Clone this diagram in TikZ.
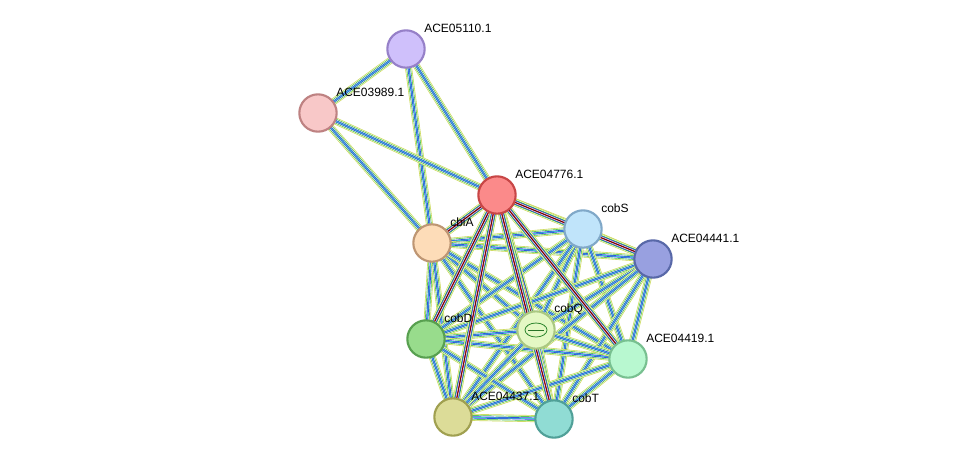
\documentclass[tikz,border=0pt]{standalone}
\usepackage{fontspec}
\setmainfont{Liberation Sans}
\begin{document}
\begin{tikzpicture}[x=0.75pt,y=-0.75pt,
  prot/.style={circle,draw,line width=1.6pt,minimum size=28pt,inner sep=0pt},
  lab/.style={anchor=west,font=\fontsize{9}{10}\selectfont,inner sep=0pt}]
\useasboundingbox[fill=white] (0,0) rectangle (975,465);
\definecolor{eY}{HTML}{C8D850}\definecolor{eG}{HTML}{40C040}\definecolor{eB}{HTML}{3040E0}\definecolor{eP}{HTML}{9060C0}\definecolor{eR}{HTML}{E03030}\definecolor{eC}{HTML}{40C8D0}
\coordinate (p05110) at (406,49);
\coordinate (p03989) at (318,113);
\coordinate (p04776) at (497,195);
\coordinate (pcobS) at (583,229);
\coordinate (p04441) at (653,259);
\coordinate (pcbiA) at (432,243);
\coordinate (pcobD) at (426,339);
\coordinate (pcobQ) at (536,330);
\coordinate (p04419) at (628,359);
\coordinate (p04437) at (453,417);
\coordinate (pcobT) at (554,419);
\newcommand\edg[2]{%
  \draw[line width=5.2pt,eY] (#1)--(#2);
  \draw[line width=4.2pt,white] (#1)--(#2);
  \draw[line width=3.4pt,eG] (#1)--(#2);
  \draw[line width=2.4pt,white] (#1)--(#2);
  \draw[line width=1.6pt,eB] (#1)--(#2);
  \draw[line width=0.6pt,eC] (#1)--(#2);}
\newcommand\edgr[2]{%
  \draw[line width=5.6pt,eY] (#1)--(#2);
  \draw[line width=4.6pt,white] (#1)--(#2);
  \draw[line width=3.8pt,eG] (#1)--(#2);
  \draw[line width=2.8pt,eB] (#1)--(#2);
  \draw[line width=1.8pt,white] (#1)--(#2);
  \draw[line width=1.1pt,eR] (#1)--(#2);
  \draw[line width=0.3pt,black] (#1)--(#2);}
\edg{p05110}{p03989}\edg{p05110}{p04776}\edg{p05110}{pcbiA}
\edg{p03989}{p04776}\edg{p03989}{pcbiA}
\foreach \a/\b in {pcbiA/pcobS,pcbiA/p04441,pcbiA/pcobD,pcbiA/pcobQ,pcbiA/p04419,pcbiA/p04437,pcbiA/pcobT,
 pcobS/p04441,pcobS/pcobD,pcobS/pcobQ,pcobS/p04419,pcobS/p04437,pcobS/pcobT,
 p04441/pcobD,p04441/pcobQ,p04441/p04419,p04441/p04437,p04441/pcobT,
 pcobD/pcobQ,pcobD/p04419,pcobD/p04437,pcobD/pcobT,
 pcobQ/p04419,pcobQ/p04437,pcobQ/pcobT,
 p04419/p04437,p04419/pcobT,p04437/pcobT}{\edg{\a}{\b}}
\foreach \b in {pcobS,p04441,pcbiA,pcobD,pcobQ,p04419,p04437,pcobT}{\edgr{p04776}{\b}}
\node[prot,fill={rgb,255:red,207;green,192;blue,251},draw={rgb,255:red,150;green,128;blue,200}] (n05110) at (p05110) {};
\node[prot,fill={rgb,255:red,248;green,200;blue,200},draw={rgb,255:red,190;green,130;blue,130}] (n03989) at (p03989) {};
\node[prot,fill={rgb,255:red,251;green,138;blue,138},draw={rgb,255:red,200;green,70;blue,70}] (n04776) at (p04776) {};
\node[prot,fill={rgb,255:red,192;green,228;blue,250},draw={rgb,255:red,128;green,168;blue,200}] (ncobS) at (pcobS) {};
\node[prot,fill={rgb,255:red,152;green,160;blue,224},draw={rgb,255:red,88;green,104;blue,168}] (n04441) at (p04441) {};
\node[prot,fill={rgb,255:red,253;green,220;blue,184},draw={rgb,255:red,190;green,150;blue,115}] (ncbiA) at (pcbiA) {};
\node[prot,fill={rgb,255:red,152;green,220;blue,140},draw={rgb,255:red,88;green,160;blue,80}] (ncobD) at (pcobD) {};
\node[prot,fill={rgb,255:red,228;green,248;blue,196},draw={rgb,255:red,170;green,200;blue,130}] (ncobQ) at (pcobQ) {};
\node[prot,fill={rgb,255:red,184;green,248;blue,208},draw={rgb,255:red,120;green,192;blue,144}] (n04419) at (p04419) {};
\node[prot,fill={rgb,255:red,220;green,220;blue,152},draw={rgb,255:red,160;green,160;blue,80}] (n04437) at (p04437) {};
\node[prot,fill={rgb,255:red,144;green,220;blue,212},draw={rgb,255:red,80;green,160;blue,152}] (ncobT) at (pcobT) {};
\draw[eG!70!black,line width=0.6pt] (ncobQ.center) ellipse (11 and 7);
\draw[eG!60!black,line width=0.4pt] ([xshift=-6pt]ncobQ.center) -- ([xshift=6pt]ncobQ.center);
\node[lab] (l05110) at (424,28) {ACE05110.1};
\node[lab] (l03989) at (336,92) {ACE03989.1};
\node[lab] (l04776) at (515,174) {ACE04776.1};
\node[lab] (lcobS) at (601,208) {cobS};
\node[lab] (l04441) at (671,238) {ACE04441.1};
\node[lab] (lcbiA) at (450,222) {cbiA};
\node[lab] (lcobD) at (444,318) {cobD};
\node[lab] (lcobQ) at (554,309) {cobQ};
\node[lab] (l04419) at (646,338) {ACE04419.1};
\node[lab] (l04437) at (471,396) {ACE04437.1};
\node[lab] (lcobT) at (572,398) {cobT};
\end{tikzpicture}
\end{document}
